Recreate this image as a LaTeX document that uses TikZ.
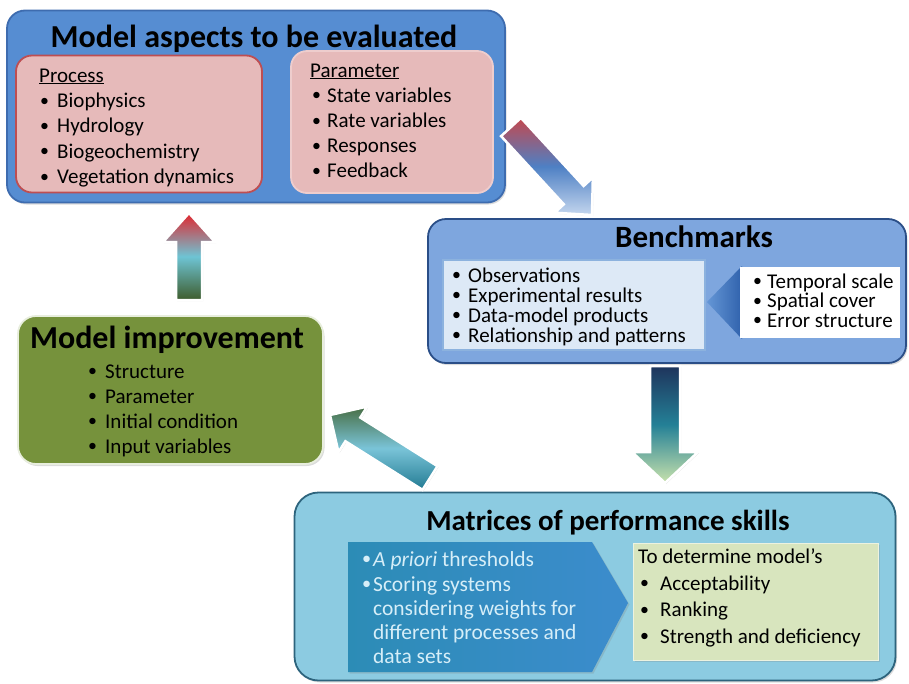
\documentclass[tikz,border=0pt]{standalone}
\usepackage{fontspec}
\setmainfont{Carlito}
\usetikzlibrary{calc,shadows}

\definecolor{aspfill}{RGB}{86,141,210}
\definecolor{aspline}{RGB}{62,108,175}
\definecolor{pinkfill}{RGB}{230,186,186}
\definecolor{procline}{RGB}{190,78,82}
\definecolor{parline}{RGB}{238,205,205}
\definecolor{benchfill}{RGB}{126,166,222}
\definecolor{benchline}{RGB}{42,78,135}
\definecolor{benchin}{RGB}{221,233,246}
\definecolor{benchinline}{RGB}{140,178,222}
\definecolor{chevA}{RGB}{100,150,214}
\definecolor{chevB}{RGB}{48,98,172}
\definecolor{matfill}{RGB}{140,203,225}
\definecolor{matline}{RGB}{45,100,125}
\definecolor{tealA}{RGB}{44,140,182}
\definecolor{tealB}{RGB}{60,140,205}
\definecolor{tealtext}{RGB}{214,238,248}
\definecolor{limefill}{RGB}{216,229,190}
\definecolor{limeline}{RGB}{236,242,224}
\definecolor{greenfill}{RGB}{118,146,60}
\definecolor{greenline}{RGB}{232,238,222}

% block arrow from tail coordinate #2 to tip coordinate #3:
% #4 half shaft width, #5 half head width, #6 head length
\newcommand\blockarrow[6]{%
  \coordinate (#2-base) at ($(#3)!#6!(#2)$);
  \shade[#1] ($(#2)!#4!90:(#3)$) -- ($(#2-base)!#4!90:(#3)$)
    -- ($(#2-base)!#5!90:(#3)$) -- (#3) -- ($(#2-base)!#5!-90:(#3)$)
    -- ($(#2-base)!#4!-90:(#3)$) -- ($(#2)!#4!-90:(#3)$) -- cycle;}

\newcommand\bl[2]{\makebox[#1][l]{\raisebox{0.06em}{\scalebox{0.85}{\textbullet}}}#2}

\tikzset{
  box/.style={rounded corners=18pt, line width=1.8pt, inner sep=0pt},
  shad/.style={drop shadow={opacity=0.28, shadow xshift=1.5pt, shadow yshift=-2pt}},
  txt/.style={anchor=base west, inner sep=0pt, font=\fontsize{21}{22}\selectfont},
  ttl/.style={anchor=base, inner sep=0pt, font=\fontsize{32}{36}\selectfont\bfseries},
  blockout/.style={draw=white, line width=2.5pt, line join=miter,
    drop shadow={opacity=0.3, shadow xshift=1pt, shadow yshift=-1pt}}
}

\begin{document}
\begin{tikzpicture}[x=1pt,y=-1pt]
\useasboundingbox (0,0) rectangle (909,683);

% ---------- Model aspects to be evaluated ----------
\node[box, shad, fill=aspfill, draw=aspline, minimum width=498pt, minimum height=192pt]
  (aspects) at (256,106.5) {};
\node[ttl] (aspT) at (254,47) {Model aspects to be evaluated};
\node[box, rounded corners=16pt, fill=pinkfill, draw=procline, minimum width=246pt,
  minimum height=137pt] (proc) at (139,124) {};
\node[box, rounded corners=16pt, fill=pinkfill, draw=parline, minimum width=202pt,
  minimum height=142pt] (param) at (392,122) {};
\node[txt] (procH) at (39,82) {\underline{Process}};
\foreach \t [count=\i] in {Biophysics,Hydrology,Biogeochemistry,Vegetation dynamics}
  \node[txt, name=proc\i] at (40,{82+25.4*\i}) {\bl{17pt}{\t}};
\node[txt] (parH) at (310,77) {\underline{Parameter}};
\foreach \t [count=\i] in {State variables,Rate variables,Responses,Feedback}
  \node[txt, name=par\i] at (312,{77+25.2*\i}) {\bl{15pt}{\t}};

% ---------- Benchmarks ----------
\node[box, shad, fill=benchfill, draw=benchline, minimum width=478pt, minimum height=144pt]
  (bench) at (667,291) {};
\node[ttl, font=\fontsize{31}{36}\selectfont\bfseries] (benchT) at (694,247) {Benchmarks};
\node[draw=benchinline, fill=benchin, line width=1.3pt, minimum width=262pt,
  minimum height=90pt, inner sep=0pt] (benchL) at (574,305) {};
\foreach \t [count=\i] in {Observations,Experimental results,Data-model products,Relationship and patterns}
  \node[txt, name=bl\i] at (452,{262+20*\i}) {\bl{16pt}{\t}};
\shade[left color=chevA, right color=chevB] (707,302) -- (742,266) -- (742,339) -- cycle;
\node[fill=white, minimum width=160pt, minimum height=71pt, inner sep=0pt]
  (benchR) at (820,302) {};
\foreach \t [count=\i] in {Temporal scale,Spatial cover,Error structure}
  \node[txt, name=br\i] at (753,{268.5+19.5*\i}) {\bl{14pt}{\t}};

% ---------- Model improvement ----------
\node[box, shad, fill=greenfill, draw=greenline, minimum width=305pt, minimum height=148pt]
  (improve) at (170.5,390) {};
\node[ttl] (impT) at (167,348) {Model improvement};
\foreach \t [count=\i] in {Structure,Parameter,Initial condition,Input variables}
  \node[txt, name=imp\i] at (88,{353+25*\i}) {\bl{17pt}{\t}};

% ---------- Matrices of performance skills ----------
\node[box, rounded corners=24pt, shad, fill=matfill, draw=matline, minimum width=601pt,
  minimum height=188pt] (matrix) at (595,586.5) {};
\node[ttl, font=\fontsize{29}{34}\selectfont\bfseries] (matT) at (608,530) {Matrices of performance skills};
\shade[left color=tealA, right color=tealB, drop shadow={opacity=0.25, shadow xshift=1.5pt, shadow yshift=-1.5pt}]
  (348,542) -- (592,542) -- (628,603) -- (592,672) -- (348,672) -- cycle;
\tikzset{mtxt/.style={txt, text=tealtext, font=\fontsize{21.5}{22}\selectfont}}
\node[mtxt] (m1) at (362,566) {\bl{11pt}{\textit{A priori} thresholds}};
\node[mtxt] (m2) at (362,591) {\bl{11pt}{Scoring systems}};
\node[mtxt] (m3) at (373,615) {considering weights for};
\node[mtxt] (m4) at (373,639) {different processes and};
\node[mtxt] (m5) at (373,663) {data sets};
\node[fill=limefill, draw=limeline, line width=1pt, minimum width=245pt, minimum height=117pt,
  inner sep=0pt, drop shadow={opacity=0.25, shadow xshift=1.5pt, shadow yshift=-1.5pt}]
  (matR) at (755.5,601.5) {};
\node[txt] (r0) at (638,563) {To determine model’s};
\foreach \t [count=\i] in {Acceptability,Ranking,Strength and deficiency}
  \node[txt, name=r\i] at (640,{563.5+26.5*\i}) {\bl{20pt}{\t}};

% ---------- block arrows between the stages ----------
\coordinate (a1t) at (511,127);  \coordinate (a1h) at (592,215);
\blockarrow{blockout, shading angle=45, top color={rgb,255:red,196;green,72;blue,78},
  bottom color={rgb,255:red,196;green,214;blue,238},
  middle color={rgb,255:red,78;green,128;blue,196}}{a1t}{a1h}{13.5pt}{26pt}{27pt}

\coordinate (a2t) at (665,366);  \coordinate (a2h) at (665,483);
\blockarrow{blockout, top color={rgb,255:red,30;green,52;blue,92},
  bottom color={rgb,255:red,200;green,226;blue,172},
  middle color={rgb,255:red,36;green,128;blue,150}}{a2t}{a2h}{15pt}{33pt}{31pt}

\coordinate (a3t) at (430,478);  \coordinate (a3h) at (330,415);
\blockarrow{blockout, shading angle=58, top color={rgb,255:red,72;green,110;blue,68},
  bottom color={rgb,255:red,34;green,122;blue,146},
  middle color={rgb,255:red,122;green,196;blue,216}}{a3t}{a3h}{14pt}{27pt}{27pt}

\coordinate (a4t) at (189,300);  \coordinate (a4h) at (189,213);
\blockarrow{blockout, top color={rgb,255:red,226;green,38;blue,46},
  bottom color={rgb,255:red,62;green,92;blue,44},
  middle color={rgb,255:red,110;green,196;blue,212}}{a4t}{a4h}{13pt}{26pt}{29pt}
\end{tikzpicture}
\end{document}
